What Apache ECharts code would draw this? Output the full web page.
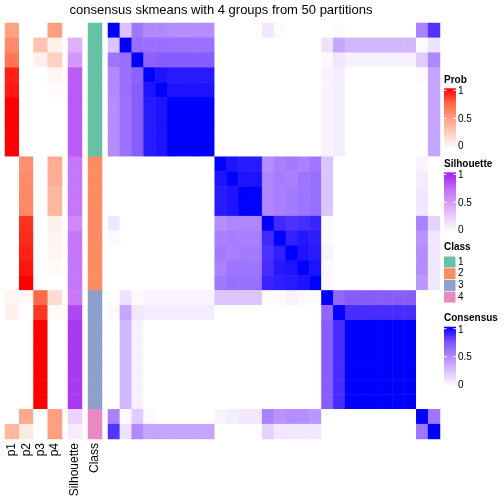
<!DOCTYPE html>
<html><head><meta charset="utf-8">
<script src="https://cdn.jsdelivr.net/npm/echarts@6.0.0/dist/echarts.min.js"></script>
<style>html,body{margin:0;padding:0;background:#fff}#c{width:504px;height:504px}</style>
</head><body><div id="c"></div>
<script>
const titleText = 'consensus skmeans with 4 groups from 50 partitions';
const sampleIds = ['s1','s2','s3','s4','s5','s6','s7','s8','s9','s10','s11','s12','s13','s14','s15','s16','s17','s18','s19','s20','s21','s22','s23','s24','s25','s26','s27','s28'];
const probNames = ['p1','p2','p3','p4'];
const p1 = [0.48,0.59,0.68,0.92,0.94,1,1,1,1,0,0,0,0,0,0,0,0,0,0.05,0.08,0,0,0,0,0,0,0,0.37];
const p2 = [0,0,0,0,0,0,0,0,0,0.57,0.59,0.60,0.60,0.88,0.90,0.92,0.95,1,0.03,0,0,0,0,0,0,0,0.45,0.11];
const p3 = [0,0.31,0.08,0,0,0,0,0,0,0,0,0,0,0,0,0,0,0,0.74,0.87,1,1,1,1,1,1,0,0];
const p4 = [0.50,0.08,0.25,0.05,0.02,0,0,0,0,0.43,0.42,0.38,0.38,0.08,0.06,0.05,0.02,0,0.18,0.02,0,0,0,0,0,0,0.50,0.50];
const silhouette = [0,0.40,0.52,0.79,0.79,0.79,0.79,0.79,0.79,0.67,0.67,0.67,0.67,0.58,0.67,0.67,0.67,0.67,0.66,0.86,0.91,0.91,0.91,0.91,0.91,0.91,0.23,0.10];
const classes = [1,1,1,1,1,1,1,1,1,2,2,2,2,2,2,2,2,2,3,3,3,3,3,3,3,3,4,4];
const classLabels = ['1','2','3','4'];
const classColors = ['#66C2A5','#FC8D62','#8DA0CB','#E78AC3'];
const legendTicks = ['1','0.5','0'];
const consensusRows = [
[1.00,0.25,0.59,0.51,0.51,0.49,0.49,0.49,0.49,0,0,0,0,0.10,0.02,0,0,0,0,0.02,0,0,0,0,0,0,0.54,0.84],
[0.25,1.00,0.62,0.62,0.62,0.61,0.61,0.61,0.61,0,0,0,0,0,0,0,0,0,0.12,0.38,0.31,0.31,0.31,0.31,0.31,0.31,0.02,0.12],
[0.59,0.62,1.00,0.68,0.70,0.70,0.70,0.70,0.70,0,0,0,0,0,0,0,0,0,0.02,0.10,0.06,0.06,0.06,0.06,0.06,0.06,0.22,0.51],
[0.51,0.62,0.68,1.00,0.94,0.92,0.92,0.92,0.92,0,0,0,0,0,0,0,0,0,0.05,0.08,0,0,0,0,0,0,0.02,0.39],
[0.51,0.62,0.70,0.94,1.00,0.94,0.94,0.94,0.94,0,0,0,0,0,0,0,0,0,0.05,0.08,0,0,0,0,0,0,0,0.39],
[0.49,0.61,0.70,0.92,0.94,1,1,1,1,0,0,0,0,0,0,0,0,0,0.05,0.08,0,0,0,0,0,0,0,0.39],
[0.49,0.61,0.70,0.92,0.94,1,1,1,1,0,0,0,0,0,0,0,0,0,0.05,0.08,0,0,0,0,0,0,0,0.39],
[0.49,0.61,0.70,0.92,0.94,1,1,1,1,0,0,0,0,0,0,0,0,0,0.05,0.08,0,0,0,0,0,0,0,0.39],
[0.49,0.61,0.70,0.92,0.94,1,1,1,1,0,0,0,0,0,0,0,0,0,0.05,0.08,0,0,0,0,0,0,0,0.39],
[0,0,0,0,0,0,0,0,0,1.00,0.94,0.92,0.92,0.49,0.55,0.57,0.54,0.59,0.25,0,0,0,0,0,0,0,0.05,0],
[0,0,0,0,0,0,0,0,0,0.94,1.00,0.94,0.94,0.52,0.56,0.55,0.60,0.62,0.25,0,0,0,0,0,0,0,0.08,0],
[0,0,0,0,0,0,0,0,0,0.92,0.94,1.00,1.00,0.52,0.55,0.57,0.60,0.62,0.25,0,0,0,0,0,0,0,0.10,0],
[0,0,0,0,0,0,0,0,0,0.92,0.94,1.00,1.00,0.52,0.55,0.57,0.60,0.62,0.25,0,0,0,0,0,0,0,0.10,0],
[0.10,0,0,0,0,0,0,0,0,0.49,0.52,0.52,0.52,1.00,0.87,0.85,0.86,0.89,0.02,0,0,0,0,0,0,0,0.54,0.19],
[0.02,0,0,0,0,0,0,0,0,0.55,0.56,0.55,0.55,0.87,1.00,0.90,0.93,0.91,0.02,0,0,0,0,0,0,0,0.46,0.10],
[0,0,0,0,0,0,0,0,0,0.57,0.55,0.57,0.57,0.85,0.90,1.00,0.94,0.92,0.05,0,0,0,0,0,0,0,0.49,0.10],
[0,0,0,0,0,0,0,0,0,0.54,0.60,0.60,0.60,0.86,0.93,0.94,1.00,0.94,0.02,0,0,0,0,0,0,0,0.49,0.10],
[0,0,0,0,0,0,0,0,0,0.59,0.62,0.62,0.62,0.89,0.91,0.92,0.94,1.00,0.02,0,0,0,0,0,0,0,0.45,0.10],
[0,0.12,0.02,0.05,0.05,0.05,0.05,0.05,0.05,0.25,0.25,0.25,0.25,0.02,0.02,0.05,0.02,0.02,1.00,0.66,0.70,0.70,0.70,0.70,0.70,0.70,0,0],
[0.02,0.38,0.10,0.08,0.08,0.08,0.08,0.08,0.08,0,0,0,0,0,0,0,0,0,0.66,1.00,0.86,0.86,0.86,0.86,0.86,0.86,0,0],
[0,0.31,0.06,0,0,0,0,0,0,0,0,0,0,0,0,0,0,0,0.70,0.86,1,1,1,1,1,1,0,0],
[0,0.31,0.06,0,0,0,0,0,0,0,0,0,0,0,0,0,0,0,0.70,0.86,1,1,1,1,1,1,0,0],
[0,0.31,0.06,0,0,0,0,0,0,0,0,0,0,0,0,0,0,0,0.70,0.86,1,1,1,1,1,1,0,0],
[0,0.31,0.06,0,0,0,0,0,0,0,0,0,0,0,0,0,0,0,0.70,0.86,1,1,1,1,1,1,0,0],
[0,0.31,0.06,0,0,0,0,0,0,0,0,0,0,0,0,0,0,0,0.70,0.86,1,1,1,1,1,1,0,0],
[0,0.31,0.06,0,0,0,0,0,0,0,0,0,0,0,0,0,0,0,0.70,0.86,1,1,1,1,1,1,0,0],
[0.54,0.02,0.22,0.02,0,0,0,0,0,0.05,0.08,0.10,0.10,0.54,0.46,0.49,0.49,0.45,0,0,0,0,0,0,0,0,1.00,0.59],
[0.84,0.12,0.51,0.39,0.39,0.39,0.39,0.39,0.39,0,0,0,0,0.19,0.10,0.10,0.10,0.10,0,0,0,0,0,0,0,0,0.59,1.00]
];

const consColors = ['#FFFFFF','#DCC5FF','#B28BFF','#7E51FF','#0000FF'];
const probColors = ['#FFFFFF','#FFCFBF','#FF9E81','#FF6846','#FF0000'];
const silColors = ['#FFFFFF','#EDCDFD','#D79BFA','#BE66F5','#A020F0'];

const FONT = 'Liberation Sans, Arial, Helvetica, sans-serif';
const TOP = 23, H = 416;

const consData = [];
consensusRows.forEach((row, i) => row.forEach((v, j) => consData.push([j, i, v])));
const probData = [];
[p1, p2, p3, p4].forEach((arr, k) => arr.forEach((v, i) => probData.push([k, i, v])));
const silData = silhouette.map((v, i) => [0, i, v]);
const classData = classes.map((v, i) => [0, i, v]);

function yAx(gi) {
  return { type: 'category', gridIndex: gi, data: sampleIds, inverse: true, show: false };
}
function xAx(gi, data, showLabel) {
  return {
    type: 'category', gridIndex: gi, data: data, position: 'bottom',
    axisLine: { show: false }, axisTick: { show: false }, splitLine: { show: false },
    axisLabel: { show: showLabel, interval: 0, rotate: 90, margin: 4, fontSize: 12, color: '#000', fontFamily: FONT }
  };
}

function gradLegend(title, top, colors) {
  const stops = colors.map((c, i) => ({ offset: 1 - i / (colors.length - 1), color: c }));
  const els = [
    { type: 'text', x: 444, y: top - 8.5, style: { text: title, font: 'bold 10px ' + FONT, fill: '#000', textVerticalAlign: 'middle' } },
    { type: 'rect', shape: { x: 444, y: top, width: 12, height: 60 },
      style: { fill: { type: 'linear', x: 0, y: 0, x2: 0, y2: 1, colorStops: stops.slice().reverse() } } }
  ];
  const tickY = [top + 2, top + 30, top + 58];
  [0, 1].forEach(k => {
    els.push({ type: 'line', shape: { x1: 444, y1: tickY[k], x2: 446.5, y2: tickY[k] }, style: { stroke: '#fff', lineWidth: 1 } });
    els.push({ type: 'line', shape: { x1: 453.5, y1: tickY[k], x2: 456, y2: tickY[k] }, style: { stroke: '#fff', lineWidth: 1 } });
  });
  const labY = [top + 3.4, top + 30.6, top + 58.4];
  legendTicks.forEach((t, k) => {
    els.push({ type: 'text', x: 458, y: labY[k], style: { text: t, font: '10px ' + FONT, fill: '#000', textVerticalAlign: 'middle' } });
  });
  return els;
}

const graphics = [
  { type: 'text', x: 221, y: 10, style: { text: titleText, font: '13px ' + FONT, fill: '#000', textAlign: 'center', textVerticalAlign: 'middle' } }
];
graphics.push(...gradLegend('Prob', 88.3, probColors));
graphics.push(...gradLegend('Silhouette', 172.3, silColors));
graphics.push({ type: 'text', x: 444, y: 247.7, style: { text: 'Class', font: 'bold 10px ' + FONT, fill: '#000', textVerticalAlign: 'middle' } });
classLabels.forEach((lab, k) => {
  graphics.push({ type: 'rect', shape: { x: 444, y: 256.5 + k * 11.7, width: 11.5, height: 11 }, style: { fill: classColors[k] } });
  graphics.push({ type: 'text', x: 458, y: 262 + k * 11.7, style: { text: lab, font: '10px ' + FONT, fill: '#000', textVerticalAlign: 'middle' } });
});
graphics.push(...gradLegend('Consensus', 326.7, consColors));

const chart = echarts.init(document.getElementById('c'), null, { renderer: 'canvas' });
chart.setOption({
  animation: false,
  backgroundColor: '#fff',
  grid: [
    { left: 108, top: TOP, width: 332, height: H },
    { left: 5, top: TOP, width: 57, height: H },
    { left: 68, top: TOP, width: 14, height: H },
    { left: 88, top: TOP, width: 14, height: H }
  ],
  xAxis: [
    xAx(0, sampleIds, false),
    xAx(1, probNames, true),
    xAx(2, ['Silhouette'], true),
    xAx(3, ['Class'], true)
  ],
  yAxis: [yAx(0), yAx(1), yAx(2), yAx(3)],
  visualMap: [
    { show: false, type: 'continuous', seriesIndex: 0, dimension: 2, min: 0, max: 1, inRange: { color: consColors } },
    { show: false, type: 'continuous', seriesIndex: 1, dimension: 2, min: 0, max: 1, inRange: { color: probColors } },
    { show: false, type: 'continuous', seriesIndex: 2, dimension: 2, min: 0, max: 1, inRange: { color: silColors } },
    { show: false, type: 'piecewise', seriesIndex: 3, dimension: 2,
      pieces: classLabels.map((l, k) => ({ value: Number(l), color: classColors[k] })) }
  ],
  series: [
    { type: 'heatmap', xAxisIndex: 0, yAxisIndex: 0, data: consData, progressive: 0, emphasis: { disabled: true } },
    { type: 'heatmap', xAxisIndex: 1, yAxisIndex: 1, data: probData, progressive: 0, emphasis: { disabled: true } },
    { type: 'heatmap', xAxisIndex: 2, yAxisIndex: 2, data: silData, progressive: 0, emphasis: { disabled: true } },
    { type: 'heatmap', xAxisIndex: 3, yAxisIndex: 3, data: classData, progressive: 0, emphasis: { disabled: true } }
  ],
  graphic: graphics
});
</script>
</body></html>
